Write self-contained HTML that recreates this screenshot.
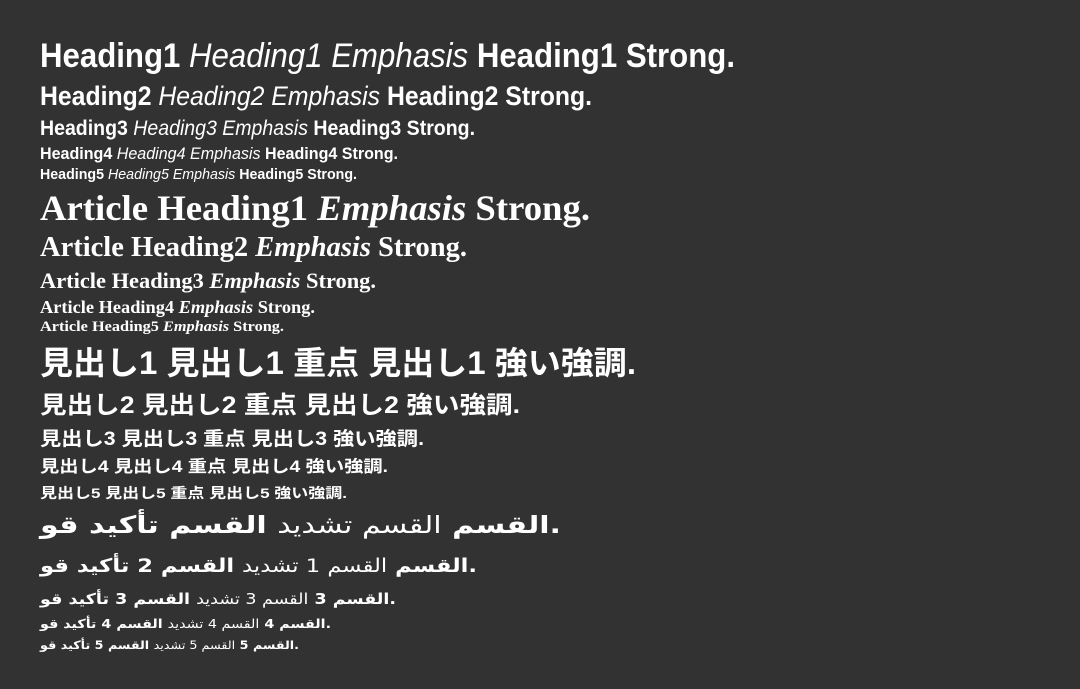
<!DOCTYPE html>
<html><head><meta charset="utf-8">
<style>
html,body{margin:0;padding:0;background:#323232;}
body{width:1080px;height:689px;position:relative;overflow:hidden;}
.frame{position:absolute;left:0;top:0;width:1080px;height:689px;background:#323232;border-radius:6px;}
.l{position:absolute;left:40px;white-space:nowrap;color:#fff;line-height:1;transform-origin:0 50%;display:block;}
.s{font-family:"Liberation Sans",sans-serif;font-weight:bold;}
.s i{font-weight:normal;}
.a{font-family:"Liberation Serif",serif;font-weight:bold;}
.a i{font-weight:bold;}
.j{font-family:"Liberation Sans","Noto Sans CJK JP",sans-serif;font-weight:bold;}
.r{font-family:"DejaVu Sans",sans-serif;font-weight:bold;direction:ltr;}
.r span{font-weight:normal;}
</style></head>
<body>
<div class="frame">
<div class="l s" data-fit="695" style="font-size:34px;top:39px">Heading1 <i>Heading1 Emphasis</i> Heading1 Strong.</div>
<div class="l s" data-fit="552" style="font-size:27px;top:83px">Heading2 <i>Heading2 Emphasis</i> Heading2 Strong.</div>
<div class="l s" data-fit="435" style="font-size:21px;top:118px">Heading3 <i>Heading3 Emphasis</i> Heading3 Strong.</div>
<div class="l s" data-fit="358" style="font-size:17px;top:145px">Heading4 <i>Heading4 Emphasis</i> Heading4 Strong.</div>
<div class="l s" data-fit="317" style="font-size:14.5px;top:168px">Heading5 <i>Heading5 Emphasis</i> Heading5 Strong.</div>

<div class="l a" data-fit="550" style="font-size:36px;top:190px">Article Heading1 <i>Emphasis</i> Strong.</div>
<div class="l a" data-fit="427" style="font-size:28px;top:234px">Article Heading2 <i>Emphasis</i> Strong.</div>
<div class="l a" data-fit="336" style="font-size:22px;top:270px">Article Heading3 <i>Emphasis</i> Strong.</div>
<div class="l a" data-fit="275" style="font-size:18px;top:298px">Article Heading4 <i>Emphasis</i> Strong.</div>
<div class="l a" data-fit="244" style="font-size:15px;top:320px">Article Heading5 <i>Emphasis</i> Strong.</div>

<div class="l j" data-fit="596" style="font-size:32px;top:347px">見出し1 見出し1 重点 見出し1 強い強調.</div>
<div class="l j" data-fit="480" style="font-size:24px;top:394px">見出し2 見出し2 重点 見出し2 強い強調.</div>
<div class="l j" data-fit="384" style="font-size:19px;top:430px">見出し3 見出し3 重点 見出し3 強い強調.</div>
<div class="l j" data-fit="348" style="font-size:16.5px;top:459px">見出し4 見出し4 重点 見出し4 強い強調.</div>
<div class="l j" data-fit="307" style="font-size:14px;top:486px">見出し5 見出し5 重点 見出し5 強い強調.</div>

<div class="l r" data-fit="521" style="font-size:24px;top:513px">القسم <span>القسم تشديد</span> القسم تأكيد قو.</div>
<div class="l r" data-fit="437" style="font-size:19px;top:557px">القسم <span>القسم 1 تشديد</span> القسم 2 تأكيد قو.</div>
<div class="l r" data-fit="356" style="font-size:15px;top:592px">القسم 3 <span>القسم 3 تشديد</span> القسم 3 تأكيد قو.</div>
<div class="l r" data-fit="291" style="font-size:12.5px;top:618px">القسم 4 <span>القسم 4 تشديد</span> القسم 4 تأكيد قو.</div>
<div class="l r" data-fit="259" style="font-size:11.5px;top:640px">القسم 5 <span>القسم 5 تشديد</span> القسم 5 تأكيد قو.</div>
</div>
<script>
document.querySelectorAll('[data-fit]').forEach(function(el){
  el.style.display='inline-block';
  var w=el.getBoundingClientRect().width;
  var t=parseFloat(el.getAttribute('data-fit'));
  if(w>0){el.style.transform='scaleX('+(t/w)+')';}
});
</script>
</body></html>
